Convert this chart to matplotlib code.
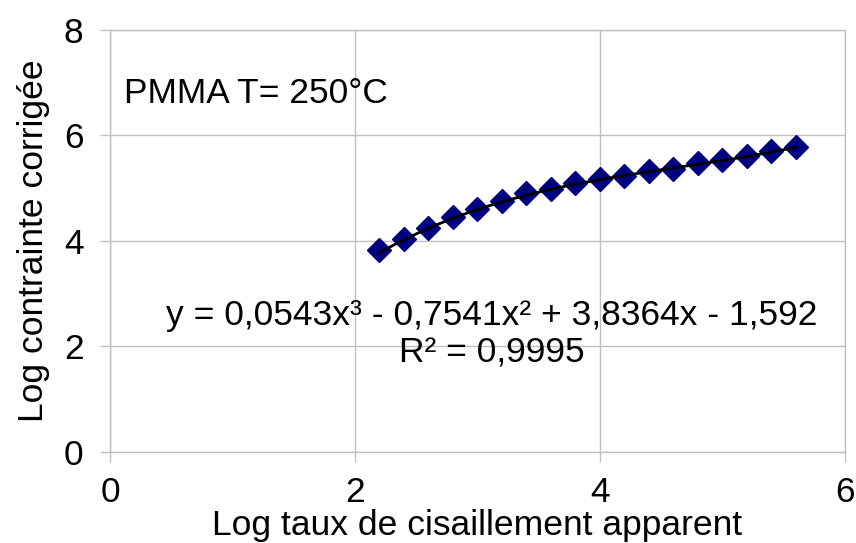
import matplotlib
matplotlib.use("Agg")
import matplotlib.pyplot as plt
import numpy as np

plt.rcParams['font.family'] = ['Liberation Sans', 'DejaVu Sans']

# Data
log_shear = [2.2, 2.4, 2.6, 2.8, 3.0, 3.2, 3.4, 3.6, 3.8, 4.0, 4.2, 4.4, 4.6, 4.8, 5.0, 5.2, 5.4, 5.6]
log_stress = [3.82, 4.03, 4.25, 4.45, 4.60, 4.75, 4.91, 4.98, 5.10, 5.17, 5.24, 5.33, 5.37, 5.47, 5.54, 5.62, 5.71, 5.79]
fit_coeffs = [0.0543, -0.7541, 3.8364, -1.592]
x_ticks = [0, 2, 4, 6]
y_ticks = [0, 2, 4, 6, 8]

FS = 25.5

fig = plt.figure(figsize=(8.56, 5.43), dpi=100)
ax = fig.add_axes([0.1285, 0.1676, 0.8585, 0.7772])

grid_c = '#c0c0c0'
ax.set_xlim(0, 6)
ax.set_ylim(0, 8)
ax.set_xticks(x_ticks)
ax.set_yticks(y_ticks)
ax.grid(True, color=grid_c, linewidth=1.0)
ax.set_axisbelow(True)
for s in ax.spines.values():
    s.set_color(grid_c)
    s.set_linewidth(1.0)
ax.tick_params(axis='both', direction='out', length=7, width=1.0, color=grid_c,
               labelsize=FS, labelcolor='black')
ax.tick_params(axis='x', pad=10)
ax.tick_params(axis='y', pad=12)

ax.plot(log_shear, log_stress, linestyle='none', marker='D', markersize=12.5,
        markerfacecolor='#000080', markeredgecolor='#000080', zorder=3)

xf = np.linspace(min(log_shear), max(log_shear), 200)
yf = np.polyval(fit_coeffs, xf)
ax.plot(xf, yf, color='black', linewidth=2.0, zorder=4)

ax.text(0.114, 6.62, 'PMMA T= 250°C', fontsize=FS, va='baseline', ha='left')
ax.text(3.114, 2.41, 'y = 0,0543x³ - 0,7541x² + 3,8364x - 1,592', fontsize=FS,
        va='baseline', ha='center')
ax.text(3.12, 1.69, 'R² = 0,9995', fontsize=FS, va='baseline', ha='center')

ax.set_xlabel('Log taux de cisaillement apparent', fontsize=FS, labelpad=0)
ax.set_ylabel('Log contrainte corrigée', fontsize=FS, labelpad=10)

fig.savefig('out.png', dpi=100)
